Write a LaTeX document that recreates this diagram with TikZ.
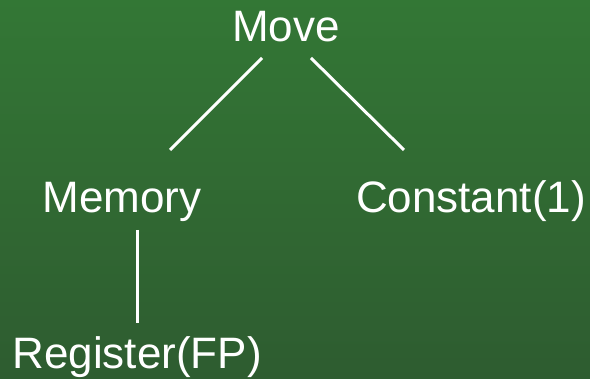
\documentclass[tikz,border=0pt]{standalone}
\usepackage{fontspec}
\setmainfont{Liberation Sans}
\definecolor{bgtop}{RGB}{51,119,53}
\definecolor{bgbot}{RGB}{46,92,48}
\begin{document}
\begin{tikzpicture}[x=1pt,y=1pt,
  lbl/.style={text=white,anchor=base,inner sep=0pt,font=\fontsize{44}{50}\selectfont},
  edge/.style={draw=white,line width=3pt}]
\shade[top color=bgtop,bottom color=bgbot] (0,0) rectangle (590,379);
\useasboundingbox (0,0) rectangle (590,379);
\node[lbl] (move) at (286,337) {Move};
\node[lbl] (memory) at (122,166) {Memory};
\node[lbl] (const) at (471,166) {Constant(1)};
\node[lbl] (reg) at (137,10) {Register(FP)};
\coordinate (mvL) at (262,321);
\coordinate (mvR) at (311,321);
\coordinate (memT) at (170,229);
\coordinate (conT) at (404,229);
\coordinate (memB) at (137,149);
\coordinate (regT) at (137,56);
\draw[edge] (mvL) -- (memT);
\draw[edge] (mvR) -- (conT);
\draw[edge] (memB) -- (regT);
\end{tikzpicture}
\end{document}
